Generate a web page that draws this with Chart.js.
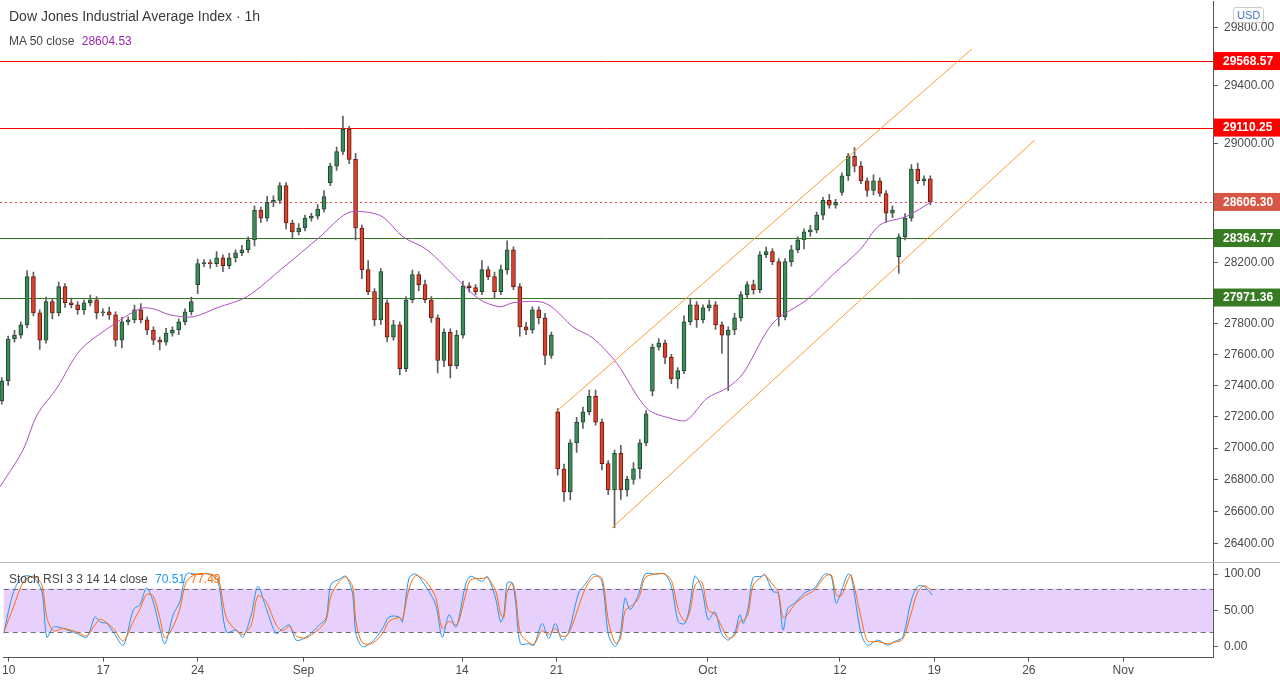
<!DOCTYPE html>
<html>
<head>
<meta charset="utf-8">
<script src="https://cdn.jsdelivr.net/npm/chart.js@4.4.1/dist/chart.umd.min.js"></script>
<style>
  body { margin: 0; background: #fff; font-family: "Liberation Sans", Arial, sans-serif; }
  #wrap { position: relative; width: 1280px; height: 680px; overflow: hidden; }
  #main { position: absolute; left: 0; top: -12px; width: 1280px; height: 589px; }
  #sep { position: absolute; left: 0; top: 562px; width: 1280px; height: 1px; background: #b8b8b8; }
  #stoch { position: absolute; left: 0; top: 551px; width: 1280px; height: 129px; }
  .lbl { position: absolute; white-space: nowrap; color: #444; }
</style>
</head>
<body>
<div id="wrap">
  <div id="main"><canvas id="mainChart" width="1280" height="589"></canvas></div>
  <div id="sep"></div>
  <div id="stoch"><canvas id="stochChart" width="1280" height="129"></canvas></div>
  <div class="lbl" style="left:9px;top:8px;font-size:14px;color:#3a3a3a">Dow Jones Industrial Average Index · 1h</div>
  <div class="lbl" style="left:9px;top:34px;font-size:12px">MA 50 close <span style="color:#9c27b0;margin-left:4px">28604.53</span></div>
  <div class="lbl" style="left:9px;top:572px;font-size:12px">Stoch RSI 3 3 14 14 close <span style="color:#2196f3;margin-left:4px">70.51</span> <span style="color:#ff6d00;margin-left:2px">77.49</span></div>
  <div class="lbl" style="left:1233px;top:7px;font-size:11px;color:#4a7cc0;border:1px solid #ccc;border-radius:3px;padding:1px 3px;background:#fff">USD</div>
</div>
<script>
// x positions are in trading days, Aug 10 = 0
const xTickDays = [0, 5, 10, 15.6, 24, 29, 37, 44, 49, 54, 59];
const xTickLabels = ['10', '17', '24', 'Sep', '14', '21', 'Oct', '12', '19', '26', 'Nov'];
const yTicks = [26400, 26600, 26800, 27000, 27200, 27400, 27600, 27800, 28200, 29000, 29400, 29800];

// hourly-ish closes, 3 per day (first value is the last bar before Aug 10)
const closes = [27430,
  27700, 27726, 27792,  28109, 27871, 27693,  27944, 27871, 28043,  27937, 27924, 27891,  27937, 27957, 27871,
  27878, 27858, 27693,  27812, 27825, 27891,  27825, 27759, 27693,  27680, 27739, 27759,  27812, 27878, 27944,
  28195, 28201, 28195,  28234, 28181, 28234,  28267, 28287, 28353,  28551, 28498, 28604,  28617, 28716, 28465,
  28406, 28432, 28498,  28511, 28558, 28643,  28848, 28947, 29099,  28894, 28432, 28155,  28010, 27825, 28142,
  27713, 27792, 27508,  27957, 28122, 28056,  27957, 27838, 27561,  27746, 27528, 27726,
  28049, 28036, 28010,  28155, 28109, 28010,  28155, 28287, 28043,  27779, 27759, 27891,  27838, 27594, 27726,
  26868, 26723, 27033,  27165, 27231, 27330,  27165, 26901, 26736,  26967, 26736, 26802,  26868, 27033, 27218,
  27647, 27673, 27581,  27442, 27495, 27812,  27924, 27825, 27904,  27924, 27792, 27726,  27759, 27838, 27990,
  28056, 28023, 28254,  28274, 28208, 27845,  28208, 28287, 28353,  28406, 28419, 28518,  28617, 28584, 28604,
  28782, 28914, 28848,  28749, 28683, 28749,  28663, 28531, 28551,  28373, 28498, 28828,  28749, 28762, 28606];
const openBefore = 27300;
// day index -> opening price where the session gapped
const gapDays = [10, 17, 20, 24, 29, 34, 44, 47];
const gapOpens = [28056, 28736, 27937, 27726, 27231, 27363, 28670, 28241];

const wickHi = [20,
  20,30,20, 40,30,20, 30,20,30, 20,30,20, 20,30,20, 20,30,20, 30,20,30, 40,20,20, 20,30,20, 20,20,30,
  30,20,20, 40,20,30, 20,30,20, 30,20,40, 30,20,20, 20,30,20, 20,30,40, 20,30,90, 20,40,20, 60,20,20,
  20,30,20, 20,30,20, 30,20,20, 20,20,30, 30,20,20, 60,20,30, 30,60,20, 20,30,20, 20,30,20,
  20,30,20, 30,30,40, 40,20,20, 20,50,20, 40,20,20, 20,30,20, 20,20,40, 40,20,20, 30,20,20, 20,30,20,
  20,30,20, 30,20,20, 20,30,20, 20,30,20, 20,40,20, 20,20,60, 30,20,40, 20,20,30, 20,30,30, 40,20,20];
const wickLo = [20,
  30,20,20, 20,20,60, 20,40,20, 30,20,30, 30,20,40, 20,30,40, 50,20,20, 20,30,30, 50,20,20, 30,20,20,
  60,20,30, 20,40,20, 30,20,20, 40,30,20, 30,20,40, 40,20,20, 20,20,20, 20,30,20, 30,80,60, 20,40,30,
  30,20,40, 20,20,40, 20,30,80, 40,80,20, 20,30,20, 20,20,40, 20,30,20, 60,30,20, 40,60,20,
  40,60,50, 60,40,20, 20,40,30, 236,60,40, 30,60,20, 30,20,40, 30,60,20, 20,50,20, 20,30,120, 360,30,20,
  20,30,20, 20,20,60, 20,30,20, 60,30,20, 30,20,20, 20,30,40, 20,40,30, 20,60,30, 110,20,20, 20,30,20];

// 50-period moving average, read at sample points
const maDays = [-0.26, 0.95, 1.69, 2.74, 3.96, 5.54, 7.12, 7.81, 8.71, 9.92, 11.19, 12.77, 14.67, 16.62, 18.05,
  19.10, 19.95, 21.0, 22.27, 24.01, 25.07, 26.12, 26.81, 28.23, 28.92, 29.97, 31.03, 32.30, 33.88, 35.25,
  35.99, 37.04, 38.10, 38.94, 40.53, 42.32, 43.69, 45.12, 46.17, 47.60, 48.92];
const maValues = [26756, 26987, 27211, 27383, 27627, 27779, 27898, 27898, 27858, 27845, 27904, 27977, 28168, 28373, 28531,
  28538, 28505, 28373, 28287, 28076, 27957, 27911, 27937, 27944, 27904, 27779, 27706, 27541, 27251, 27185,
  27178, 27317, 27383, 27475, 27805, 27957, 28122, 28287, 28452, 28511, 28610];

// rising channel (start, end)
const channelUpper = [[29.08, 27231], [51.03, 29653]];
const channelLower = [[32.03, 26498], [54.35, 29026]];

const levels = [29568.57, 29110.25, 28606.30, 28364.77, 27971.36];
const levelColors = ['#ff0000', '#ff0000', '#e0473a', '#2f7a1c', '#2f7a1c'];
const levelBadge = ['#ff0000', '#ff0000', '#d65746', '#367a22', '#367a22'];

// Stoch RSI
const stochDays = [-0.26, 0.26, 0.79, 1.32, 1.76, 2.02, 2.37, 2.90, 3.61, 4.13, 4.57, 4.84, 5.19, 5.54, 6.07, 6.60, 6.95,
  7.30, 7.65, 8.0, 8.27, 8.71, 9.06, 9.41, 9.94, 10.64, 11.08, 11.52, 12.05, 12.40, 12.84, 13.19, 13.63, 14.16, 14.51,
  14.86, 15.22, 15.74, 16.45, 16.80, 17.06, 17.50, 17.85, 18.21, 18.38, 18.73, 19.26, 19.79, 20.14, 20.67, 20.84, 21.20,
  21.55, 22.08, 22.60, 22.95, 23.31, 23.66, 23.83, 24.19, 24.45, 25.07,
  25.33, 25.77, 26.04, 26.21, 26.39, 26.65, 26.83, 27.09, 27.53, 27.80, 28.24, 28.59, 28.94, 29.29, 29.64, 30.17, 30.52,
  30.96, 31.40, 31.75, 32.11, 32.37, 32.63, 32.90, 33.34, 33.69, 34.22, 34.74, 35.10, 35.45, 35.80, 36.06, 36.33, 36.68,
  37.03, 37.38, 37.74, 38.09, 38.44, 38.70, 38.88, 39.14, 39.41, 39.85, 40.02, 40.46, 40.73, 40.99, 41.25, 41.60, 42.13,
  42.66, 43.19, 43.54, 43.80, 44.07, 44.42, 44.60, 45.12, 45.47, 46.0, 46.53, 46.88, 47.32, 47.76, 48.11, 48.46, 48.90];
const stochK = [18,76,97,95,76,13,27,25,18,13, 41,34,32,20,2,51,58,81,62,25, 4,44,62,100,100,100,90,20,23,13,
  44,83,53,18,25,30,9,13,30,39, 86,93,97,72,18,0,7,25,41,41, 34,95,100,83,58,13,44,27,39,86, 97,90,
  97,67,34,44,88,88,62,4,4,2, 32,11,32,9,20,74,86,100,90,16, 0,16,67,51,72,100,100,100,81,34,
  32,58,97,81,37,48,18,9,20,44, 32,53,95,97,100,76,74,23,53,60, 74,81,100,97,60,76,100,97,18,2, 9,2,7,13,62,83,83,71];
const stochD = [20,55,90,97,85,40,22,25,20,15, 30,38,33,25,8,35,52,72,70,40, 12,28,52,90,100,100,95,40,22,17,
  30,70,62,30,22,28,15,12,25,36, 70,90,96,82,35,5,5,18,35,40, 37,80,98,90,68,25,35,30,35,72, 92,94,
  95,78,45,40,75,88,72,18,6,3, 22,17,25,14,18,55,80,96,95,35, 5,10,50,55,66,95,100,100,90,50,
  35,48,85,90,50,45,28,12,16,35, 36,45,85,96,99,85,76,40,45,58, 70,78,96,99,72,70,92,99,40,8, 7,4,6,10,45,75,84,77];

const X_MIN = -0.264, X_MAX = 63.75, AXIS_W = 67;

// build candles
const wicks = [], bodies = [], bodyFill = [], bodyLine = [];
for (let i = 0; i < closes.length; i++) {
    const day = i === 0 ? -1 : Math.floor((i - 1) / 3);
    const slot = i === 0 ? 2 : (i - 1) % 3;
    const x = i === 0 ? -0.17 : day + (slot + 0.5) / 3;
    let open = i === 0 ? openBefore : closes[i - 1];
    const g = gapDays.indexOf(day);
    if (g >= 0 && slot === 0) open = gapOpens[g];
    const close = closes[i];
    wicks.push({x: x, y: [Math.min(open, close) - wickLo[i], Math.max(open, close) + wickHi[i]]});
    bodies.push({x: x, y: [open, close]});
    const up = close >= open;
    bodyFill.push(up ? '#3f8a5d' : '#d8432e');
    bodyLine.push(up ? '#1d4a2c' : '#6a1c12');
}

const fixedWidth = {afterFit: function (scale) { scale.width = AXIS_W; }};

const levelsPlugin = {
    id: 'levels',
    beforeDatasetsDraw(chart) {
        const {ctx, chartArea, scales} = chart;
        levels.forEach((v, i) => {
            const y = Math.round(scales.y.getPixelForValue(v)) + 0.5;
            ctx.save();
            ctx.strokeStyle = levelColors[i];
            ctx.lineWidth = 1;
            if (i === 2) ctx.setLineDash([2, 3]);
            ctx.beginPath();
            ctx.moveTo(chartArea.left, y);
            ctx.lineTo(chartArea.right, y);
            ctx.stroke();
            ctx.restore();
        });
    },
    afterDraw(chart) {
        const {ctx, chartArea, scales} = chart;
        levels.forEach((v, i) => {
            const y = scales.y.getPixelForValue(v);
            ctx.save();
            ctx.fillStyle = levelBadge[i];
            ctx.fillRect(chartArea.right + 1, y - 9, 70, 18);
            ctx.fillStyle = '#fff';
            ctx.font = 'bold 12px "Liberation Sans", Arial, sans-serif';
            ctx.textBaseline = 'middle';
            ctx.fillText(v.toFixed(2), chartArea.right + 10, y + 0.5);
            ctx.restore();
        });
    }
};

new Chart(document.getElementById('mainChart'), {
    data: {
        datasets: [
            {type: 'bar', data: wicks, backgroundColor: '#5f5f5f', barThickness: 1, grouped: false, order: 3},
            {type: 'bar', data: bodies, backgroundColor: bodyFill, borderColor: bodyLine, borderWidth: 1,
                borderSkipped: false, barThickness: 4, minBarLength: 1, grouped: false, order: 2},
            {type: 'line', data: maDays.map((d, i) => ({x: d, y: maValues[i]})), borderColor: '#b04fc4',
                borderWidth: 1, pointRadius: 0, tension: 0.3, order: 1},
            {type: 'line', data: channelUpper.map(p => ({x: p[0], y: p[1]})), borderColor: '#ff9a2e',
                borderWidth: 1, pointRadius: 0, order: 0},
            {type: 'line', data: channelLower.map(p => ({x: p[0], y: p[1]})), borderColor: '#ff9a2e',
                borderWidth: 1, pointRadius: 0, order: 0}
        ]
    },
    options: {
        responsive: false,
        animation: false,
        layout: {padding: 0},
        plugins: {legend: {display: false}, tooltip: {enabled: false}},
        scales: {
            x: {type: 'linear', min: X_MIN, max: X_MAX, display: false, offset: false},
            y: {
                type: 'logarithmic', position: 'right', min: 26276, max: 29987,
                afterBuildTicks: function (scale) { scale.ticks = yTicks.map(v => ({value: v})); },
                ...fixedWidth,
                border: {color: '#555'},
                grid: {drawOnChartArea: false, tickLength: 5, color: '#555'},
                ticks: {
                    color: '#4a4a4a', padding: 6,
                    font: {family: '"Liberation Sans", Arial, sans-serif', size: 12},
                    callback: v => Number(v).toFixed(2)
                }
            }
        }
    },
    plugins: [levelsPlugin]
});

const bandPlugin = {
    id: 'band',
    beforeDatasetsDraw(chart) {
        const {ctx, chartArea, scales} = chart;
        const y80 = scales.y.getPixelForValue(80), y20 = scales.y.getPixelForValue(20);
        ctx.save();
        ctx.fillStyle = 'rgba(190, 120, 250, 0.35)';
        ctx.fillRect(chartArea.left, y80, chartArea.right - chartArea.left, y20 - y80);
        ctx.strokeStyle = '#6b6b7a';
        ctx.setLineDash([5, 4]);
        [y80, y20].forEach(y => {
            ctx.beginPath();
            ctx.moveTo(chartArea.left, Math.round(y) + 0.5);
            ctx.lineTo(chartArea.right, Math.round(y) + 0.5);
            ctx.stroke();
        });
        ctx.restore();
    }
};

new Chart(document.getElementById('stochChart'), {
    type: 'line',
    data: {
        datasets: [
            {data: stochDays.map((d, i) => ({x: d, y: stochD[i]})), borderColor: '#ff6d00', borderWidth: 1, pointRadius: 0, tension: 0.3},
            {data: stochDays.map((d, i) => ({x: d, y: stochK[i]})), borderColor: '#2196f3', borderWidth: 1, pointRadius: 0, tension: 0.3}
        ]
    },
    options: {
        responsive: false,
        animation: false,
        layout: {padding: 0},
        plugins: {legend: {display: false}, tooltip: {enabled: false}},
        scales: {
            x: {
                type: 'linear', min: X_MIN, max: X_MAX,
                afterBuildTicks: function (scale) { scale.ticks = xTickDays.map(v => ({value: v})); },
                border: {color: '#555'},
                grid: {drawOnChartArea: false, tickLength: 4, color: '#555'},
                ticks: {
                    autoSkip: false, maxRotation: 0, color: '#4a4a4a', padding: 2,
                    font: {family: '"Liberation Sans", Arial, sans-serif', size: 12},
                    callback: v => xTickLabels[xTickDays.indexOf(v)]
                }
            },
            y: {
                position: 'right', min: -15.1, max: 113.7,
                afterBuildTicks: function (scale) { scale.ticks = [0, 50, 100].map(v => ({value: v})); },
                ...fixedWidth,
                border: {color: '#555'},
                grid: {drawOnChartArea: false, tickLength: 5, color: '#555'},
                ticks: {
                    color: '#4a4a4a', padding: 6,
                    font: {family: '"Liberation Sans", Arial, sans-serif', size: 12},
                    callback: v => Number(v).toFixed(2)
                }
            }
        }
    },
    plugins: [bandPlugin]
});
</script>
</body>
</html>
